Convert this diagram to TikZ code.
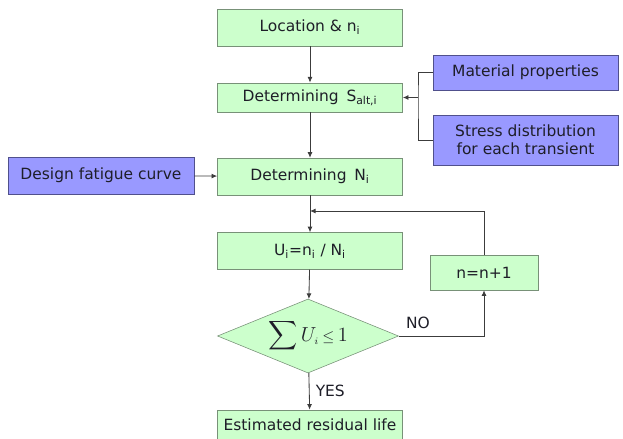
\documentclass[tikz,border=0pt]{standalone}
\usepackage{amsmath}
\usepackage[no-math]{fontspec}
\setmainfont{DejaVu Sans}
\usetikzlibrary{arrows.meta,shapes.geometric}
\definecolor{boxgreen}{RGB}{204,255,204}
\definecolor{boxgreenline}{RGB}{120,145,120}
\definecolor{boxblue}{RGB}{153,153,255}
\definecolor{boxblueline}{RGB}{80,80,140}
\definecolor{linegray}{RGB}{60,60,60}
\definecolor{textgray}{RGB}{30,30,40}

\begin{document}
\begin{tikzpicture}[x=0.025cm,y=-0.025cm,
  every node/.style={text=textgray},
  stepbox/.style={draw=boxgreenline, fill=boxgreen, minimum width=4.625cm, minimum height=0.92cm, inner sep=0pt, font=\fontsize{11}{13}\selectfont},
  inbox/.style={draw=boxblueline, fill=boxblue, minimum width=4.625cm, minimum height=0.88cm, inner sep=0pt, align=center, font=\fontsize{11}{13}\selectfont},
  link/.style={-{Latex[length=4pt,width=3.5pt]}, draw=linegray, line width=0.6pt}]
\useasboundingbox (0,0) rectangle (623,439);
% Main column
\node[stepbox] (loc) at (310,27.5) {Location \& n\textsubscript{i}};
\node[stepbox, minimum height=0.73cm] (salt) at (310,97.5) {Determining\enspace S\textsubscript{alt,i}};
\node[stepbox] (ndet) at (310,176.5) {Determining\enspace N\textsubscript{i}};
\node[stepbox] (ucalc) at (310,251) {U\textsubscript{i}=n\textsubscript{i} / N\textsubscript{i}};
\node[draw=boxgreenline, fill=boxgreen, diamond, aspect=2.45, inner sep=0pt, minimum width=4.525cm, minimum height=1.85cm] (test) at (308,336) {\fontsize{15}{18}\selectfont$\displaystyle\sum U_{\scriptscriptstyle i}\,{\scriptstyle\le}\,1$};
\node[stepbox, minimum height=0.75cm] (est) at (310,425) {Estimated residual life};
% Loop box
\node[stepbox, minimum width=2.7cm, minimum height=0.875cm] (nn) at (484,272.5) {n=n+1};
% Inputs
\node[inbox] (mat) at (525.5,72.5) {Material properties};
\node[inbox, minimum height=1.25cm] (str) at (525.5,140) {Stress distribution\\for each transient};
\node[inbox, minimum width=4.65cm, minimum height=0.92cm] (design) at (101,175.5) {Design fatigue curve};
% Connectors
\draw[link] (loc) -- (salt);
\draw[link] (salt) -- (ndet);
\draw[link] (ndet) -- (ucalc);
\draw[link] (ucalc) -- (test);
\draw[link] (test) -- (est) node[pos=0.5, right=1pt, font=\fontsize{11}{13}\selectfont] (yes) {YES};
\draw[link] (design) -- (ndet);
\coordinate (brk) at (418,97.5);
\draw[linegray, line width=0.6pt] (mat.west) -| (brk) |- (str.west);
\draw[link] (brk) -- (salt.east);
\draw[link] (test.east) -| (nn.south);
\node[font=\fontsize{11}{13}\selectfont] (no) at (418,323) {NO};
\coordinate (join) at (310,211);
\draw[link] (nn.north) |- (join);
\end{tikzpicture}
\end{document}
